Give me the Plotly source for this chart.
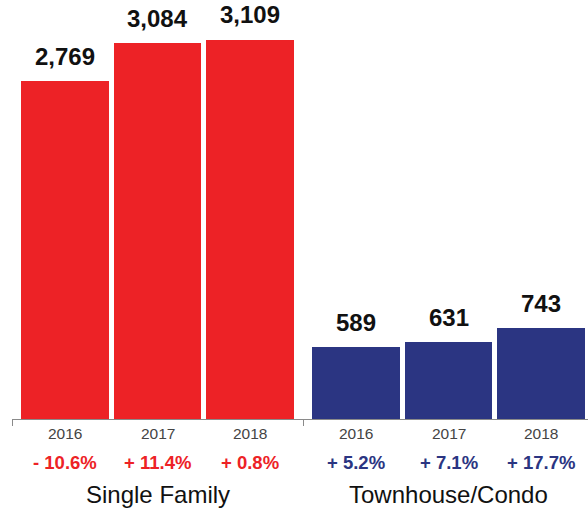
import plotly.graph_objects as go

groups = ["Single Family", "Townhouse/Condo"]
years = ["2016", "2017", "2018"]
single_family = [2769, 3084, 3109]
townhouse = [589, 631, 743]
sf_change = ["- 10.6%", "+ 11.4%", "+ 0.8%"]
th_change = ["+ 5.2%", "+ 7.1%", "+ 17.7%"]

colors = ["#ED2226", "#2B3582"]
group_gap = 0.146
values = [single_family, townhouse]
changes = [sf_change, th_change]

fig = go.Figure()
annotations = []
FONT = "Liberation Sans, Arial, Helvetica, sans-serif"
for g, (name, vals, chg, col) in enumerate(zip(groups, values, changes, colors)):
    xs = [g * (len(years) + group_gap) + j for j in range(len(years))]
    fig.add_trace(go.Bar(x=xs, y=vals, name=name, marker=dict(color=col, line=dict(width=0)),
                         width=0.95, hoverinfo="skip", showlegend=False))
    for x, v, yr, c in zip(xs, vals, years, chg):
        annotations.append(dict(x=x, y=v, xref="x", yref="y", text=f"{v:,}", showarrow=False,
                                yanchor="middle", yshift=25,
                                font=dict(family=FONT, size=24, color="#111111", weight="bold")))
        annotations.append(dict(x=x, y=0, xref="x", yref="paper", text=yr, showarrow=False,
                                yanchor="middle", yshift=-14,
                                font=dict(family=FONT, size=15.5, color="#444444")))
        annotations.append(dict(x=x, y=0, xref="x", yref="paper", text=c, showarrow=False,
                                yanchor="middle", yshift=-43,
                                font=dict(family=FONT, size=18.5, color=col, weight="bold")))
    annotations.append(dict(x=xs[1], y=0, xref="x", yref="paper", text=name, showarrow=False,
                            yanchor="middle", yshift=-75,
                            font=dict(family=FONT, size=24, color="#111111")))

n = len(years)
boundaries = [-0.573 + g * (n + group_gap) for g in range(len(groups) + 1)]

fig.update_layout(
    width=588, height=511,
    margin=dict(l=12, r=0, t=0, b=92),
    paper_bgcolor="white", plot_bgcolor="white",
    bargap=0,
    annotations=annotations,
    xaxis=dict(range=[-0.573, 5.654], showgrid=False, zeroline=False,
               showline=True, linecolor="#8a8a8a", linewidth=1,
               tickvals=boundaries, ticktext=["" for _ in boundaries],
               ticks="outside", ticklen=6, tickcolor="#8a8a8a", tickwidth=1),
    yaxis=dict(range=[0, 3437], visible=False, showgrid=False, zeroline=False),
)

fig.write_html("out.html")
